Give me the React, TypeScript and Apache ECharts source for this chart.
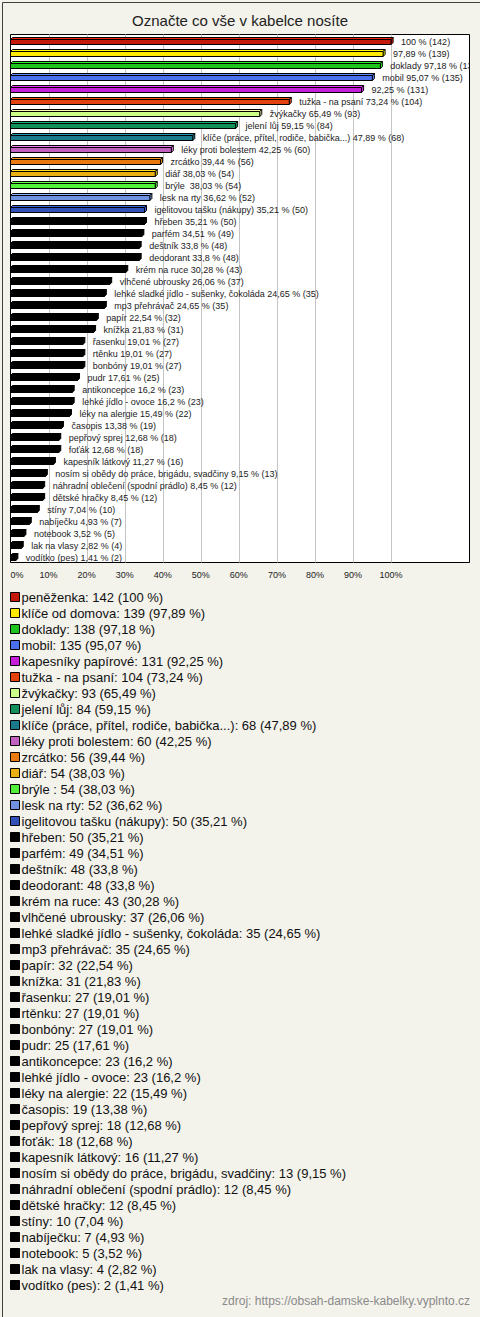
import React, { useEffect, useRef } from "react";
import * as echarts from "echarts";

const titleText = "Označte co vše v kabelce nosíte";
const sourceText = "zdroj: https://obsah-damske-kabelky.vyplnto.cz";

const categories = [
  "peněženka",
  "klíče od domova",
  "doklady",
  "mobil",
  "kapesníky papírové",
  "tužka - na psaní",
  "žvýkačky",
  "jelení lůj",
  "klíče (práce, přítel, rodiče, babička...)",
  "léky proti bolestem",
  "zrcátko",
  "diář",
  "brýle ",
  "lesk na rty",
  "igelitovou tašku (nákupy)",
  "hřeben",
  "parfém",
  "deštník",
  "deodorant",
  "krém na ruce",
  "vlhčené ubrousky",
  "lehké sladké jídlo - sušenky, čokoláda",
  "mp3 přehrávač",
  "papír",
  "knížka",
  "řasenku",
  "rtěnku",
  "bonbóny",
  "pudr",
  "antikoncepce",
  "lehké jídlo - ovoce",
  "léky na alergie",
  "časopis",
  "pepřový sprej",
  "foťák",
  "kapesník látkový",
  "nosím si obědy do práce, brigádu, svadčiny",
  "náhradní oblečení (spodní prádlo)",
  "dětské hračky",
  "stíny",
  "nabíječku",
  "notebook",
  "lak na vlasy",
  "vodítko (pes)",
];

const counts = [
  142, 139, 138, 135, 131, 104, 93, 84, 68, 60, 56, 54, 54, 52, 50, 50, 49, 48,
  48, 43, 37, 35, 35, 32, 31, 27, 27, 27, 25, 23, 23, 22, 19, 18, 18, 16, 13, 12,
  12, 10, 7, 5, 4, 2,
];

const percents = [
  100, 97.89, 97.18, 95.07, 92.25, 73.24, 65.49, 59.15, 47.89, 42.25, 39.44,
  38.03, 38.03, 36.62, 35.21, 35.21, 34.51, 33.8, 33.8, 30.28, 26.06, 24.65,
  24.65, 22.54, 21.83, 19.01, 19.01, 19.01, 17.61, 16.2, 16.2, 15.49, 13.38,
  12.68, 12.68, 11.27, 9.15, 8.45, 8.45, 7.04, 4.93, 3.52, 2.82, 1.41,
];

const leadColors = [
  "#c41a0c",
  "#ffea00",
  "#1ec41e",
  "#4a70f0",
  "#c41ed8",
  "#e2420e",
  "#ccff88",
  "#12905a",
  "#1a7a8c",
  "#c060c0",
  "#e87a10",
  "#e8b012",
  "#52f03a",
  "#7090e0",
  "#3052b8",
];
const restColor = "#000000";

const namesHiddenInBarLabel = ["peněženka", "klíče od domova", "kapesníky papírové"];

const gridValues = [10, 20, 30, 40, 50, 60, 70, 80, 90, 100];
const xMax = 120.6;
const xInterval = 10;

const FONT = '"Liberation Sans", Arial, Helvetica, sans-serif';

const fmt = (v: number) => String(v).replace(".", ",");

export default function App() {
  const ref = useRef<HTMLDivElement>(null);

  useEffect(() => {
    document.body.style.margin = "0";
    if (!ref.current) return;
    const chart = echarts.init(ref.current, null, { renderer: "svg" });

    const colorOf = (i: number) => (i < leadColors.length ? leadColors[i] : restColor);

    const barSeries = categories.map((name, i) => {
      const color = colorOf(i);
      const dark = echarts.color.lift(color, -0.25);
      const labelText =
        (namesHiddenInBarLabel.includes(name) ? "" : name + " ") +
        `${fmt(percents[i])} % (${counts[i]})`;
      return {
        type: "custom",
        name,
        z: 3,
        clip: true,
        silent: true,
        itemStyle: { color },
        encode: { x: 0, y: 1 },
        data: [[percents[i], i]],
        renderItem: (params: any, api: any) => {
          const v = api.value(0);
          const c = api.value(1);
          const p0 = api.coord([0, c]);
          const p1 = api.coord([v, c]);
          const x0 = p0[0];
          const x1 = p1[0];
          const yc = Math.round(p0[1]);
          const d = 2;
          const top = yc - 3.5;
          const frontTop = yc - 1.5;
          const bottom = yc + 3.5;
          return {
            type: "group",
            children: [
              {
                type: "polygon",
                shape: {
                  points: [
                    [x0, frontTop],
                    [x0 + d, top],
                    [x1 + d, top],
                    [x1, frontTop],
                  ],
                },
                style: { fill: dark, stroke: "#000", lineWidth: 1 },
              },
              {
                type: "polygon",
                shape: {
                  points: [
                    [x1, frontTop],
                    [x1 + d, top],
                    [x1 + d, bottom - d],
                    [x1, bottom],
                  ],
                },
                style: { fill: dark, stroke: "#000", lineWidth: 1 },
              },
              {
                type: "rect",
                shape: { x: x0, y: frontTop, width: x1 - x0, height: bottom - frontTop },
                style: { fill: color, stroke: "#000", lineWidth: 1 },
              },
              {
                type: "text",
                style: {
                  text: labelText,
                  x: x1 + 10,
                  y: yc + 0.5,
                  verticalAlign: "middle",
                  align: "left",
                  fill: "#222",
                  fontSize: 9,
                  fontFamily: FONT,
                },
              },
            ],
          };
        },
      };
    });

    const gridSeries = {
      type: "custom",
      name: "__grid",
      z: 1,
      silent: true,
      encode: { x: 0, y: 1 },
      data: gridValues.map((v) => [v, 0]),
      renderItem: (params: any, api: any) => {
        const x = Math.round(api.coord([api.value(0), 0])[0]) + 0.5;
        const cs = params.coordSys;
        return {
          type: "line",
          shape: { x1: x, y1: cs.y, x2: x, y2: cs.y + cs.height },
          style: { stroke: "#c4c4c4", lineWidth: 1 },
        };
      },
    };

    chart.setOption({
      animation: false,
      backgroundColor: "#f3f2eb",
      title: {
        text: titleText,
        left: "center",
        top: 13,
        padding: 0,
        textStyle: { fontSize: 15, fontWeight: "normal", color: "#222", fontFamily: FONT },
      },
      grid: {
        left: 10.5,
        top: 34.5,
        width: 459,
        height: 528,
        show: true,
        backgroundColor: "#ffffff",
        borderColor: "#000000",
        borderWidth: 1,
        containLabel: false,
      },
      xAxis: {
        type: "value",
        min: 0,
        max: xMax,
        interval: xInterval,
        axisLine: { show: false },
        axisTick: { show: false },
        splitLine: { show: false },
        axisLabel: {
          margin: 8,
          fontSize: 9,
          color: "#222",
          fontFamily: FONT,
          alignMinLabel: "left",
          showMaxLabel: false,
          formatter: (v: number) => (v <= 100 ? `${v}%` : ""),
        },
      },
      yAxis: {
        type: "category",
        data: categories,
        inverse: true,
        axisLine: { show: false },
        axisTick: { show: false },
        axisLabel: { show: false },
        splitLine: { show: false },
      },
      legend: {
        data: categories,
        orient: "vertical",
        left: 10,
        top: 589,
        padding: 0,
        itemGap: 0,
        itemWidth: 9,
        itemHeight: 9,
        icon: "rect",
        selectedMode: false,
        itemStyle: { borderColor: "#000", borderWidth: 1 },
        textStyle: {
          fontSize: 13,
          lineHeight: 16,
          color: "#111",
          fontFamily: FONT,
          padding: [0, 0, 0, -3],
        },
        formatter: (name: string) => {
          const i = categories.indexOf(name);
          return `${name}: ${counts[i]} (${fmt(percents[i])} %)`;
        },
      },
      graphic: [
        {
          type: "rect",
          left: 0,
          top: 0,
          z: 100,
          silent: true,
          shape: { x: 0, y: 0, width: 479, height: 1316 },
          style: { fill: "none", stroke: "#404040", lineWidth: 1 },
          position: [0.5, 0.5],
        },
        {
          type: "text",
          right: 10,
          top: 1295,
          silent: true,
          style: { text: sourceText, fill: "#8a8a8a", fontSize: 12, fontFamily: FONT },
        },
      ],
      series: [gridSeries, ...barSeries],
    });

    return () => chart.dispose();
  }, []);

  return <div ref={ref} style={{ width: 480, height: 1317 }} />;
}
